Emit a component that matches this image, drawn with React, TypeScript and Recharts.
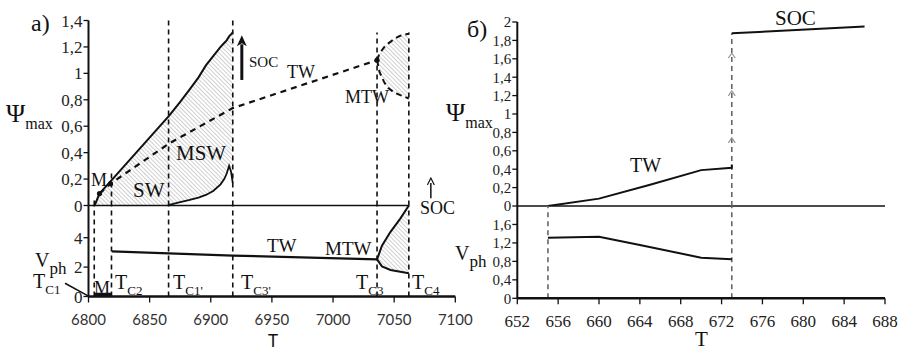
import React from 'react';
import { ComposedChart, Line, Area, Scatter, XAxis, YAxis, ReferenceLine } from 'recharts';

const SERIF = '"Liberation Serif", Tinos, "Times New Roman", serif';
const SANS = 'Lato, "Liberation Sans", sans-serif';

// ---- panel а): T = 6800..7100 ----
const leftTicksT = [6800, 6850, 6900, 6950, 7000, 7050, 7100];
const psiTicksL = [0, 0.2, 0.4, 0.6, 0.8, 1, 1.2, 1.4];
const vphTicksL = [0, 2, 4];

// SW + MSW band: upper solid boundary, lower MSW boundary
const swT = [6805, 6809, 6818, 6866, 6875, 6882, 6890, 6896, 6902, 6908, 6911, 6913, 6915, 6916.5, 6918];
const swUpper = [0, 0.09, 0.183, 0.68, 0.785, 0.87, 0.97, 1.06, 1.13, 1.2, 1.23, 1.25, 1.28, 1.295, 1.31];
const swLower = [0, 0, 0, 0.005, 0.025, 0.04, 0.06, 0.08, 0.11, 0.16, 0.2, 0.24, 0.3, 0.26, 0.17];

// TW branch (dashed) in psi_max
const twT = [6809, 6818, 6866, 6918, 7036];
const twPsi = [0.09, 0.165, 0.47, 0.737, 1.1];
const dotT = [6809, 6818, 7036];
const dotPsi = [0.09, 0.165, 1.1];

// MTW band in psi_max
const mtwT = [7036, 7038, 7042, 7045, 7050, 7055, 7062];
const mtwUpper = [1.1, 1.15, 1.2, 1.225, 1.26, 1.285, 1.3];
const mtwLower = [1.1, 1.01, 0.93, 0.89, 0.855, 0.835, 0.81];

// phase velocity, panel а)
const twVT = [6819, 6918, 7036];
const twV = [3.07, 2.78, 2.53];
const mtwVT = [7036, 7040, 7047, 7055, 7062];
const mtwVUpper = [2.53, 3.45, 4.4, 5.3, 6.19];
const mtwVLower = [2.53, 2.05, 1.8, 1.68, 1.58];
const mBarT = [6805, 6819];
const mBarV = [0.12, 0.12];

// critical temperatures T_C1, T_C2, T_C1', T_C3', T_C3, T_C4
const tcT = [6804.7, 6818.8, 6865.5, 6918, 7036, 7062];
const tcTopPsi = [0.06, 0.26, 1.42, 1.43, 1.31, 1.31];

// ---- panel б): T = 652..688 ----
const rightTicksT = [652, 656, 660, 664, 668, 672, 676, 680, 684, 688];
const psiTicksR = [0, 0.2, 0.4, 0.6, 0.8, 1, 1.2, 1.4, 1.6, 1.8, 2];
const vphTicksR = [0, 0.4, 0.8, 1.2, 1.6];
const rTwT = [655, 660, 665, 670, 673, 673];
const rTwPsi = [0, 0.08, 0.23, 0.39, 0.415, 0.45];
const rSocT = [673, 686];
const rSocPsi = [1.877, 1.95];
const rVT = [655, 660, 664, 670, 673];
const rV = [1.31, 1.335, 1.155, 0.88, 0.845];
const rJumpT = [673, 673, 673];
const rJumpPsi = [0.73, 1.24, 1.65];
const rDashT = [655, 673];

const pts = (xs: number[], ys: number[]) => xs.map((t, i) => ({ t, v: ys[i] }));
const band = (xs: number[], lo: number[], hi: number[]) => xs.map((t, i) => ({ t, v: [lo[i], hi[i]] }));
const comma = (v: number) => String(v).replace('.', ',');

const axisLine = { stroke: '#111', strokeWidth: 2 };
const tickLine = { stroke: '#111', strokeWidth: 1.3 };

const Hatch = ({ id }: { id: string }) => (
  <defs>
    <pattern id={id} width="3" height="3" patternUnits="userSpaceOnUse" patternTransform="rotate(-45)">
      <line x1="0" y1="0" x2="0" y2="3" stroke="#7a7a7a" strokeWidth="1.2" />
    </pattern>
    <marker id={id + '-arr'} markerWidth="12" markerHeight="12" refX="2" refY="6" orient="auto" markerUnits="userSpaceOnUse">
      <path d="M0,1 L11,6 L0,11 L3,6 z" fill="#111" />
    </marker>
    <marker id={id + '-arrs'} markerWidth="8" markerHeight="8" refX="2" refY="4" orient="auto" markerUnits="userSpaceOnUse">
      <path d="M0,0.5 L7,4 L0,7.5" fill="none" stroke="#111" strokeWidth="1.2" />
    </marker>
  </defs>
);

const Txt = ({ x, y, s, f, children }: any) => (
  <div style={{ position: 'absolute', left: x, top: y - s / 2, fontSize: s, lineHeight: 1, fontFamily: f || SERIF, color: '#111', whiteSpace: 'nowrap' }}>
    {children}
  </div>
);

const Sub = ({ x, y, s, main, sub, ss, dy }: any) => (
  <Txt x={x} y={y} s={s}>
    {main}
    <span style={{ fontSize: ss, position: 'relative', top: dy }}>{sub}</span>
  </Txt>
);

const Dot = (p: any) => <circle cx={p.cx} cy={p.cy} r={2.6} fill="#111" />;
const Chevron = (p: any) => (
  <path d={`M${p.cx - 3.5},${p.cy + 4} L${p.cx},${p.cy - 1} L${p.cx + 3.5},${p.cy + 4}`} stroke="#9a9a9a" strokeWidth={1.2} fill="none" />
);

const serifTick = (size: number) => ({ fontFamily: SERIF, fontSize: size, fill: '#222' });

const LeftTop = () => (
  <ComposedChart width={480} height={215} margin={{ top: 20.5, right: 24.7, bottom: 9.5, left: 0 }}>
    <Hatch id="hl1" />
    <XAxis type="number" dataKey="t" domain={[6800, 7100]} hide allowDataOverflow />
    <YAxis type="number" domain={[0, 1.4]} ticks={psiTicksL} interval={0} tickFormatter={comma} width={88.5}
      axisLine={axisLine} tickLine={tickLine} tickSize={5} tickMargin={1} allowDataOverflow
      tick={serifTick(17)} />
    <Area data={band(swT, swLower, swUpper)} dataKey="v" stroke="none" fill="url(#hl1)" isAnimationActive={false} />
    <Area data={band(mtwT, mtwLower, mtwUpper)} dataKey="v" stroke="none" fill="url(#hl1)" isAnimationActive={false} />
    <ReferenceLine segment={[{ x: 6800, y: 0 }, { x: 7062, y: 0 }]} stroke="#111" strokeWidth={1.5} ifOverflow="visible" />
    {tcT.map((t, i) => (
      <ReferenceLine key={t} segment={[{ x: t, y: 0 }, { x: t, y: tcTopPsi[i] }]} stroke="#111" strokeWidth={1.6} strokeDasharray="5 4" ifOverflow="visible" />
    ))}
    <Line data={pts(swT, swUpper)} dataKey="v" stroke="#111" strokeWidth={2} dot={false} isAnimationActive={false} />
    <Line data={pts(swT.slice(3), swLower.slice(3))} dataKey="v" stroke="#111" strokeWidth={1.8} dot={false} isAnimationActive={false} />
    <Line data={pts(twT, twPsi)} dataKey="v" stroke="#111" strokeWidth={2.2} strokeDasharray="6 5" dot={false} isAnimationActive={false} />
    <Line data={pts(mtwT, mtwUpper)} dataKey="v" stroke="#111" strokeWidth={2} strokeDasharray="6 4" dot={false} isAnimationActive={false} />
    <Line data={pts(mtwT, mtwLower)} dataKey="v" stroke="#111" strokeWidth={2} strokeDasharray="6 4" dot={false} isAnimationActive={false} />
    <Scatter data={pts(dotT, dotPsi)} dataKey="v" shape={Dot} isAnimationActive={false} />
    <ReferenceLine segment={[{ x: 6925.4, y: 0.95 }, { x: 6925.4, y: 1.22 }]} stroke="#111" strokeWidth={3} markerEnd="url(#hl1-arr)" ifOverflow="visible" />
    <ReferenceLine segment={[{ x: 7080, y: 0.055 }, { x: 7080, y: 0.17 }]} stroke="#111" strokeWidth={1.5} markerEnd="url(#hl1-arrs)" ifOverflow="visible" />
  </ComposedChart>
);

const LeftBottom = () => (
  <ComposedChart width={480} height={155} margin={{ top: 10.5, right: 24.7, bottom: 23.5, left: 0 }}>
    <Hatch id="hl2" />
    <XAxis type="number" dataKey="t" domain={[6800, 7100]} ticks={leftTicksT} interval={0} height={30}
      tickSize={6} tickMargin={12} axisLine={{ stroke: '#111', strokeWidth: 2.5 }} tickLine={tickLine} allowDataOverflow
      tick={{ fontFamily: SANS, fontSize: 15, fill: '#333' }} />
    <YAxis type="number" domain={[0, 6.19]} ticks={vphTicksL} interval={0} width={88.5}
      axisLine={axisLine} tickLine={tickLine} tickSize={5} tickMargin={1} allowDataOverflow
      tick={serifTick(17)} />
    <Area data={band(mtwVT, mtwVLower, mtwVUpper)} dataKey="v" stroke="none" fill="url(#hl2)" isAnimationActive={false} />
    {tcT.map((t) => (
      <ReferenceLine key={t} x={t} stroke="#111" strokeWidth={1.6} strokeDasharray="5 4" />
    ))}
    <Line data={pts(twVT, twV)} dataKey="v" stroke="#111" strokeWidth={2.2} dot={false} isAnimationActive={false} />
    <Line data={pts(mtwVT, mtwVUpper)} dataKey="v" stroke="#111" strokeWidth={2} dot={false} isAnimationActive={false} />
    <Line data={pts(mtwVT, mtwVLower)} dataKey="v" stroke="#111" strokeWidth={2} dot={false} isAnimationActive={false} />
    <Line data={pts(mBarT, mBarV)} dataKey="v" stroke="#111" strokeWidth={4} dot={false} isAnimationActive={false} />
    <ReferenceLine segment={[{ x: 6780.8, y: 0.9 }, { x: 6800, y: 0.03 }]} stroke="#111" strokeWidth={1.5} ifOverflow="visible" />
  </ComposedChart>
);

const RightTop = () => (
  <ComposedChart width={443} height={216} margin={{ top: 22, right: 18, bottom: 10, left: 0 }}>
    <XAxis type="number" dataKey="t" domain={[652, 688]} hide allowDataOverflow />
    <YAxis type="number" domain={[0, 2]} ticks={psiTicksR} interval={0} tickFormatter={comma} width={57.3}
      axisLine={axisLine} tickLine={tickLine} tickSize={5} tickMargin={1} allowDataOverflow
      tick={serifTick(15)} />
    <ReferenceLine y={0} stroke="#111" strokeWidth={1.3} />
    <ReferenceLine segment={[{ x: 673, y: 0 }, { x: 673, y: 1.877 }]} stroke="#666" strokeWidth={1.6} strokeDasharray="5 4" />
    <Line data={pts(rTwT, rTwPsi)} dataKey="v" stroke="#111" strokeWidth={2} dot={false} isAnimationActive={false} />
    <Line data={pts(rSocT, rSocPsi)} dataKey="v" stroke="#111" strokeWidth={2} dot={false} isAnimationActive={false} />
    <Scatter data={pts(rJumpT, rJumpPsi)} dataKey="v" shape={Chevron} isAnimationActive={false} />
  </ComposedChart>
);

const RightBottom = () => (
  <ComposedChart width={443} height={154} margin={{ top: 10, right: 18, bottom: 21.7, left: 0 }}>
    <XAxis type="number" dataKey="t" domain={[652, 688]} ticks={rightTicksT} interval={0} height={30}
      tickSize={6} tickMargin={11} axisLine={{ stroke: '#111', strokeWidth: 2.5 }} tickLine={tickLine} allowDataOverflow
      tick={serifTick(17)} />
    <YAxis type="number" domain={[0, 2]} ticks={vphTicksR} interval={0} tickFormatter={comma} width={57.3}
      axisLine={axisLine} tickLine={tickLine} tickSize={5} tickMargin={1} allowDataOverflow
      tick={serifTick(15)} />
    {rDashT.map((t) => (
      <ReferenceLine key={t} x={t} stroke="#666" strokeWidth={1.6} strokeDasharray="5 4" />
    ))}
    <Line data={pts(rVT, rV)} dataKey="v" stroke="#111" strokeWidth={2} dot={false} isAnimationActive={false} />
  </ComposedChart>
);

export default function App() {
  return (
    <div style={{ position: 'absolute', left: 0, top: 0, width: 903, height: 350, background: '#fff', overflow: 'hidden', fontFamily: SERIF }}>
      <div style={{ position: 'absolute', left: 0, top: 0 }}><LeftTop /></div>
      <div style={{ position: 'absolute', left: 0, top: 195 }}><LeftBottom /></div>
      <div style={{ position: 'absolute', left: 460, top: 0 }}><RightTop /></div>
      <div style={{ position: 'absolute', left: 460, top: 196 }}><RightBottom /></div>

      {/* panel а) labels */}
      <Txt x={31} y={23} s={24}>а)</Txt>
      <Sub x={6} y={114} s={26} main="Ψ" sub="max" ss={16} dy={7} />
      <Sub x={35} y={260} s={20} main="V" sub="ph" ss={17} dy={7} />
      <Sub x={33} y={281} s={20} main="T" sub="C1" ss={13} dy={6} />
      <Txt x={91} y={180} s={18}>M</Txt>
      <Txt x={133} y={190} s={21}>SW</Txt>
      <Txt x={176} y={153} s={21}>MSW</Txt>
      <Txt x={249} y={62} s={15}>SOC</Txt>
      <Txt x={287} y={72} s={18}>TW</Txt>
      <Txt x={345} y={97} s={18}>MTW</Txt>
      <Txt x={94} y={288} s={18}>M</Txt>
      <Sub x={115} y={282} s={20} main="T" sub="C2" ss={13} dy={6} />
      <Sub x={173} y={282} s={20} main="T" sub="C1'" ss={13} dy={6} />
      <Sub x={241} y={282} s={20} main="T" sub="C3'" ss={13} dy={6} />
      <Sub x={356} y={282} s={20} main="T" sub="C3" ss={13} dy={6} />
      <Sub x={412} y={282} s={20} main="T" sub="C4" ss={13} dy={6} />
      <Txt x={267} y={245} s={19}>TW</Txt>
      <Txt x={325} y={248} s={19}>MTW</Txt>
      <Txt x={420} y={208} s={18}>SOC</Txt>
      <Txt x={268} y={340} s={17} f={SANS}>T</Txt>

      {/* panel б) labels */}
      <Txt x={467} y={29} s={24}>б)</Txt>
      <Sub x={446} y={113} s={26} main="Ψ" sub="max" ss={16} dy={7} />
      <Sub x={455} y={253} s={20} main="V" sub="ph" ss={17} dy={7} />
      <Txt x={775} y={18} s={21}>SOC</Txt>
      <Txt x={630} y={165} s={20}>TW</Txt>
      <Txt x={695} y={339} s={21}>T</Txt>
    </div>
  );
}
